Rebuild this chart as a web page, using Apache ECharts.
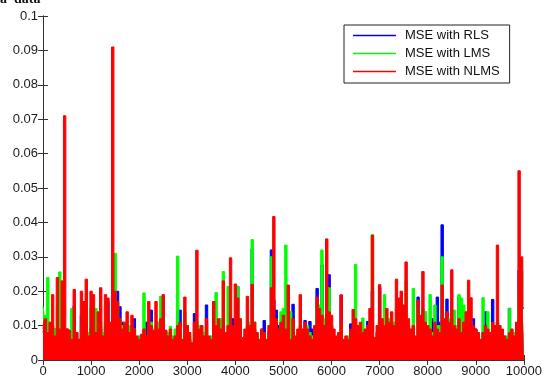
<!DOCTYPE html>
<html>
<head>
<meta charset="utf-8">
<script src="https://cdn.jsdelivr.net/npm/echarts@6/dist/echarts.min.js"></script>
<style>
  html, body { margin: 0; padding: 0; background: #fff; }
  #chart { width: 545px; height: 378px; }
</style>
</head>
<body>
<div id="chart"></div>
<script>
// sample spacing (iterations between stored points)
var xStep = 50;
var seriesNames = ['MSE with RLS', 'MSE with LMS', 'MSE with NLMS'];
var xTicks = [0, 1000, 2000, 3000, 4000, 5000, 6000, 7000, 8000, 9000, 10000];
var yTicks = [0, 0.01, 0.02, 0.03, 0.04, 0.05, 0.06, 0.07, 0.08, 0.09, 0.1];

// MSE with RLS (blue)
var mseRLS = [
  0.008, 0.010, 0.007, 0.008, 0.007, 0.009, 0.008, 0.010, 0.008, 0.006,
  0.009, 0.006, 0.006, 0.0158, 0.008, 0.006, 0.013, 0.008, 0.007, 0.006,
  0.009, 0.007, 0.008, 0.007, 0.009, 0.006, 0.010, 0.017, 0.009, 0.021,
  0.019, 0.020, 0.0155, 0.011, 0.009, 0.009, 0.008, 0.009, 0.012, 0.006,
  0.005, 0.006, 0.006, 0.011, 0.009, 0.0145, 0.008, 0.009, 0.008, 0.010,
  0.008, 0.0085, 0.007, 0.007, 0.006, 0.007, 0.0145, 0.0145, 0.004, 0.008,
  0.007, 0.006, 0.004, 0.0135, 0.010, 0.008, 0.008, 0.007, 0.016, 0.005,
  0.004, 0.008, 0.009, 0.008, 0.008, 0.010, 0.007, 0.008, 0.010, 0.012,
  0.010, 0.0214, 0.010, 0.005, 0.006, 0.008, 0.008, 0.0323, 0.009, 0.007,
  0.005, 0.009, 0.0115, 0.005, 0.0083, 0.0320, 0.0175, 0.0145, 0.010, 0.009,
  0.0136, 0.010, 0.010, 0.006, 0.0162, 0.006, 0.007, 0.009, 0.008, 0.0115,
  0.007, 0.0112, 0.009, 0.008, 0.0208, 0.010, 0.0276, 0.009, 0.010, 0.0248,
  0.010, 0.007, 0.006, 0.006, 0.0189, 0.005, 0.005, 0.0065, 0.0105, 0.008,
  0.010, 0.009, 0.008, 0.008, 0.008, 0.0112, 0.010, 0.0200, 0.005, 0.008,
  0.0210, 0.010, 0.010, 0.009, 0.009, 0.010, 0.009, 0.011, 0.012, 0.0155,
  0.0155, 0.010, 0.009, 0.008, 0.008, 0.006, 0.0183, 0.011, 0.009, 0.009,
  0.009, 0.008, 0.012, 0.008, 0.0183, 0.011, 0.0393, 0.010, 0.0177, 0.010,
  0.009, 0.009, 0.009, 0.0183, 0.010, 0.009, 0.009, 0.009, 0.009, 0.012,
  0.009, 0.006, 0.005, 0.006, 0.014, 0.008, 0.008, 0.0176, 0.009, 0.010,
  0.008, 0.008, 0.006, 0.006, 0.015, 0.007, 0.007, 0.008, 0.026, 0.026,
  0.015
];

// MSE with LMS (green)
var mseLMS = [
  0.0156, 0.013, 0.024, 0.009, 0.010, 0.009, 0.016, 0.0256, 0.021, 0.005,
  0.009, 0.007, 0.015, 0.010, 0.007, 0.006, 0.010, 0.011, 0.006, 0.008,
  0.015, 0.011, 0.015, 0.010, 0.011, 0.008, 0.011, 0.009, 0.011, 0.020,
  0.031, 0.017, 0.012, 0.010, 0.008, 0.009, 0.010, 0.008, 0.009, 0.006,
  0.007, 0.007, 0.0195, 0.006, 0.010, 0.011, 0.009, 0.010, 0.011, 0.0185,
  0.018, 0.007, 0.008, 0.0098, 0.007, 0.009, 0.0302, 0.010, 0.005, 0.014,
  0.010, 0.007, 0.005, 0.009, 0.011, 0.010, 0.010, 0.008, 0.010, 0.006,
  0.007, 0.011, 0.0196, 0.010, 0.012, 0.0257, 0.008, 0.0214, 0.010, 0.008,
  0.009, 0.0214, 0.012, 0.006, 0.007, 0.010, 0.011, 0.035, 0.011, 0.008,
  0.006, 0.007, 0.008, 0.006, 0.008, 0.030, 0.010, 0.009, 0.008, 0.014,
  0.015, 0.0334, 0.011, 0.0141, 0.010, 0.006, 0.008, 0.010, 0.009, 0.010,
  0.010, 0.008, 0.007, 0.008, 0.015, 0.016, 0.032, 0.012, 0.011, 0.021,
  0.010, 0.007, 0.006, 0.007, 0.010, 0.005, 0.006, 0.007, 0.008, 0.009,
  0.0278, 0.010, 0.009, 0.0122, 0.008, 0.009, 0.011, 0.0365, 0.006, 0.008,
  0.012, 0.011, 0.0190, 0.010, 0.012, 0.010, 0.011, 0.015, 0.015, 0.011,
  0.016, 0.023, 0.010, 0.009, 0.0208, 0.006, 0.015, 0.011, 0.015, 0.0141,
  0.010, 0.019, 0.008, 0.016, 0.010, 0.010, 0.030, 0.010, 0.011, 0.012,
  0.010, 0.0145, 0.010, 0.019, 0.018, 0.016, 0.011, 0.010, 0.011, 0.009,
  0.008, 0.007, 0.006, 0.0181, 0.009, 0.014, 0.008, 0.009, 0.010, 0.011,
  0.009, 0.008, 0.007, 0.007, 0.0150, 0.008, 0.008, 0.009, 0.020, 0.029,
  0.015
];

// MSE with NLMS (red)
var mseNLMS = [
  0.009, 0.012, 0.008, 0.011, 0.019, 0.007, 0.024, 0.009, 0.023, 0.071,
  0.009, 0.0085, 0.006, 0.0205, 0.008, 0.006, 0.020, 0.017, 0.0235, 0.007,
  0.020, 0.019, 0.008, 0.014, 0.021, 0.007, 0.019, 0.018, 0.011, 0.091,
  0.020, 0.017, 0.012, 0.009, 0.011, 0.014, 0.008, 0.013, 0.009, 0.007,
  0.006, 0.0075, 0.009, 0.007, 0.017, 0.010, 0.0085, 0.017, 0.009, 0.012,
  0.019, 0.0087, 0.007, 0.009, 0.006, 0.007, 0.010, 0.011, 0.006, 0.0183,
  0.010, 0.008, 0.005, 0.011, 0.0319, 0.009, 0.010, 0.007, 0.012, 0.007,
  0.006, 0.017, 0.010, 0.012, 0.009, 0.023, 0.008, 0.010, 0.0297, 0.010,
  0.0221, 0.018, 0.012, 0.0065, 0.009, 0.0185, 0.010, 0.022, 0.011, 0.008,
  0.006, 0.009, 0.008, 0.006, 0.010, 0.021, 0.0417, 0.012, 0.009, 0.011,
  0.013, 0.009, 0.0218, 0.006, 0.012, 0.007, 0.009, 0.019, 0.009, 0.011,
  0.009, 0.007, 0.006, 0.010, 0.0183, 0.015, 0.013, 0.010, 0.0352, 0.014,
  0.013, 0.009, 0.007, 0.008, 0.0189, 0.006, 0.007, 0.006, 0.009, 0.0147,
  0.012, 0.010, 0.011, 0.008, 0.009, 0.010, 0.015, 0.0362, 0.0065, 0.010,
  0.0219, 0.012, 0.010, 0.015, 0.011, 0.014, 0.010, 0.0235, 0.018, 0.020,
  0.016, 0.0285, 0.012, 0.009, 0.010, 0.007, 0.0174, 0.013, 0.0257, 0.011,
  0.010, 0.009, 0.007, 0.011, 0.009, 0.008, 0.0218, 0.012, 0.0140, 0.011,
  0.0262, 0.010, 0.009, 0.012, 0.008, 0.011, 0.014, 0.0232, 0.0181, 0.010,
  0.009, 0.008, 0.006, 0.008, 0.010, 0.009, 0.008, 0.011, 0.010, 0.0334,
  0.010, 0.009, 0.007, 0.006, 0.008, 0.009, 0.007, 0.011, 0.055, 0.030,
  0.015
];

function toPairs(arr) {
  return arr.map(function (v, i) { return [i * xStep, v]; });
}

var colors = ['#0000ff', '#00ff00', '#ff0000'];
var values = [mseRLS, mseLMS, mseNLMS];
var fontFam = '"Liberation Sans", Arial, Helvetica, sans-serif';

var series = values.map(function (arr, k) {
  return {
    name: seriesNames[k],
    type: 'line',
    step: 'middle',
    data: toPairs(arr),
    symbol: 'none',
    sampling: 'none',
    xAxisIndex: 0,
    yAxisIndex: 0,
    lineStyle: { color: colors[k], width: 1 },
    itemStyle: { color: colors[k] },
    areaStyle: { color: colors[k], opacity: 1 },
    z: 2 + k
  };
});

var axisLineStyle = { show: true, lineStyle: { color: '#333', width: 1 } };
var tickStyle = { show: true, inside: true, length: 5, lineStyle: { color: '#333' } };

var option = {
  animation: false,
  backgroundColor: '#fff',
  grid: { left: 43, right: 20, top: 16, bottom: 16, containLabel: false },
  graphic: [{
    type: 'text', left: 0, top: -8,
    style: { text: 'a  data', font: 'bold 14px "Liberation Serif", serif', fill: '#111' }
  }],
  legend: {
    orient: 'vertical',
    left: 344, top: 25,
    padding: [4, 10, 5, 9],
    itemGap: 5,
    itemWidth: 43, itemHeight: 1.5,
    icon: 'rect',
    borderColor: '#222', borderWidth: 1,
    backgroundColor: '#fff',
    data: seriesNames,
    textStyle: { fontSize: 13, fontFamily: fontFam, color: '#111', padding: [0, 0, 0, 4] }
  },
  xAxis: [{
    type: 'value', min: xTicks[0], max: xTicks[xTicks.length - 1], interval: 1000,
    axisLine: axisLineStyle, axisTick: tickStyle, splitLine: { show: false },
    axisLabel: {
      fontSize: 13, fontFamily: fontFam, color: '#1a1a1a', margin: 5,
      formatter: function (v) { return String(v); }
    }
  }, {
    type: 'value', position: 'top', min: xTicks[0], max: xTicks[xTicks.length - 1], interval: 1000,
    axisLine: axisLineStyle, axisTick: tickStyle, splitLine: { show: false },
    axisLabel: { show: false }
  }],
  yAxis: [{
    type: 'value', min: yTicks[0], max: yTicks[yTicks.length - 1], interval: 0.01,
    axisLine: axisLineStyle, axisTick: tickStyle, splitLine: { show: false },
    axisLabel: {
      fontSize: 13, fontFamily: fontFam, color: '#1a1a1a', margin: 5,
      formatter: function (v) { return String(+v.toFixed(2)); }
    }
  }, {
    type: 'value', position: 'right', min: yTicks[0], max: yTicks[yTicks.length - 1], interval: 0.01,
    axisLine: axisLineStyle, axisTick: tickStyle, splitLine: { show: false },
    axisLabel: { show: false }
  }],
  series: series
};

var myChart = echarts.init(document.getElementById('chart'));
myChart.setOption(option);
</script>
</body>
</html>
